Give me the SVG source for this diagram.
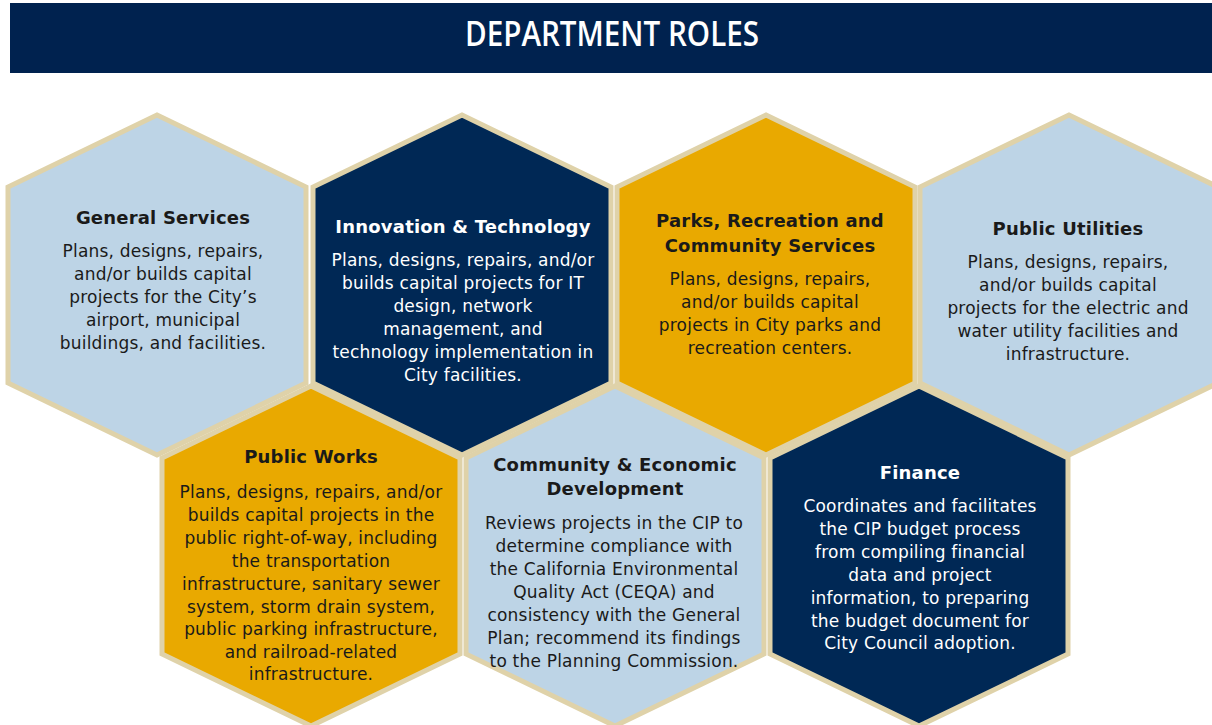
<svg xmlns="http://www.w3.org/2000/svg" width="1212" height="725" viewBox="0 0 1212 725">
<style>
.hex{stroke:#dfd2a9;stroke-width:5;stroke-linejoin:miter}
.blue{fill:#bdd4e6}
.navy{fill:#002855}
.gold{fill:#e9a900}
.h{font-family:"DejaVu Sans",sans-serif;font-weight:bold;font-size:18px;text-anchor:middle;letter-spacing:0.2px}
.b{font-family:"DejaVu Sans",sans-serif;font-size:17px;text-anchor:middle;letter-spacing:0.2px}
.dk{fill:#1a1a1a}
.lt{fill:#ffffff}
.title{font-family:"Open Sans","Liberation Sans",sans-serif;font-weight:600;font-size:34px;fill:#ffffff;text-anchor:middle}
</style>
<g id="title">
<rect x="10" y="3" width="1202" height="70" fill="#00224f"/>
<text class="title" x="612" y="46" textLength="294" lengthAdjust="spacingAndGlyphs">DEPARTMENT ROLES</text>
</g>
<g id="general-services">
<polygon class="hex blue" points="157,115 306,187 306,383 157,455 8,383 8,187"/>
<text class="h dk" x="163" y="224">General Services</text>
<text class="b dk" x="163" y="257">Plans, designs, repairs,</text>
<text class="b dk" x="163" y="280">and/or builds capital</text>
<text class="b dk" x="163" y="303">projects for the City’s</text>
<text class="b dk" x="163" y="326">airport, municipal</text>
<text class="b dk" x="163" y="349">buildings, and facilities.</text>
</g>
<g id="innovation-technology">
<polygon class="hex navy" points="462,115 611,187 611,383 462,455 313,383 313,187"/>
<text class="h lt" x="463" y="233">Innovation &amp; Technology</text>
<text class="b lt" x="463" y="266">Plans, designs, repairs, and/or</text>
<text class="b lt" x="463" y="289">builds capital projects for IT</text>
<text class="b lt" x="463" y="312">design, network</text>
<text class="b lt" x="463" y="335">management, and</text>
<text class="b lt" x="463" y="358">technology implementation in</text>
<text class="b lt" x="463" y="381">City facilities.</text>
</g>
<g id="parks-recreation">
<polygon class="hex gold" points="766,115 915,187 915,383 766,455 617,383 617,187"/>
<text class="h dk" x="770" y="227">Parks, Recreation and</text>
<text class="h dk" x="770" y="252">Community Services</text>
<text class="b dk" x="770" y="285">Plans, designs, repairs,</text>
<text class="b dk" x="770" y="308">and/or builds capital</text>
<text class="b dk" x="770" y="331">projects in City parks and</text>
<text class="b dk" x="770" y="354">recreation centers.</text>
</g>
<g id="public-utilities">
<polygon class="hex blue" points="1069,115 1218,187 1218,383 1069,455 920,383 920,187"/>
<text class="h dk" x="1068" y="235">Public Utilities</text>
<text class="b dk" x="1068" y="268">Plans, designs, repairs,</text>
<text class="b dk" x="1068" y="291">and/or builds capital</text>
<text class="b dk" x="1068" y="314">projects for the electric and</text>
<text class="b dk" x="1068" y="337">water utility facilities and</text>
<text class="b dk" x="1068" y="360">infrastructure.</text>
</g>
<g id="public-works">
<polygon class="hex gold" points="311,386 460,458 460,654 311,726 162,654 162,458"/>
<text class="h dk" x="311" y="463">Public Works</text>
<text class="b dk" x="311" y="498">Plans, designs, repairs, and/or</text>
<text class="b dk" x="311" y="521">builds capital projects in the</text>
<text class="b dk" x="311" y="544">public right-of-way, including</text>
<text class="b dk" x="311" y="567">the transportation</text>
<text class="b dk" x="311" y="590">infrastructure, sanitary sewer</text>
<text class="b dk" x="311" y="613">system, storm drain system,</text>
<text class="b dk" x="311" y="635">public parking infrastructure,</text>
<text class="b dk" x="311" y="658">and railroad-related</text>
<text class="b dk" x="311" y="680">infrastructure.</text>
</g>
<g id="community-economic-development">
<polygon class="hex blue" points="615,386 764,458 764,654 615,726 466,654 466,458"/>
<text class="h dk" x="615" y="471">Community &amp; Economic</text>
<text class="h dk" x="615" y="495">Development</text>
<text class="b dk" x="614" y="529">Reviews projects in the CIP to</text>
<text class="b dk" x="614" y="552">determine compliance with</text>
<text class="b dk" x="614" y="575">the California Environmental</text>
<text class="b dk" x="614" y="598">Quality Act (CEQA) and</text>
<text class="b dk" x="614" y="621">consistency with the General</text>
<text class="b dk" x="614" y="644">Plan; recommend its findings</text>
<text class="b dk" x="614" y="667">to the Planning Commission.</text>
</g>
<g id="finance">
<polygon class="hex navy" points="919,386 1068,458 1068,654 919,726 770,654 770,458"/>
<text class="h lt" x="920" y="479">Finance</text>
<text class="b lt" x="920" y="512">Coordinates and facilitates</text>
<text class="b lt" x="920" y="535">the CIP budget process</text>
<text class="b lt" x="920" y="558">from compiling financial</text>
<text class="b lt" x="920" y="581">data and project</text>
<text class="b lt" x="920" y="604">information, to preparing</text>
<text class="b lt" x="920" y="627">the budget document for</text>
<text class="b lt" x="920" y="649">City Council adoption.</text>
</g>
<g id="connectors"/>
</svg>
